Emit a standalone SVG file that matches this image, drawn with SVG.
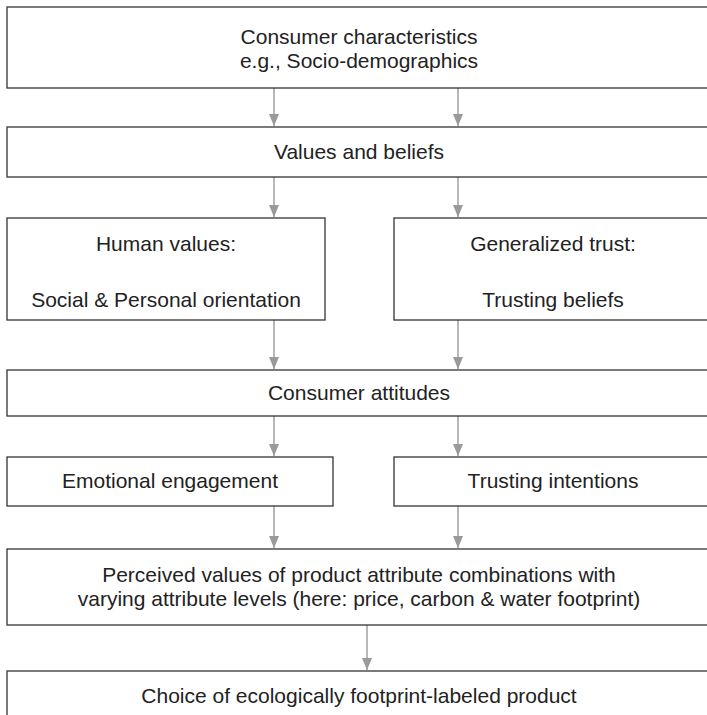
<svg xmlns="http://www.w3.org/2000/svg" width="707" height="715" viewBox="0 0 707 715">
<style>
.box{fill:#fff;stroke:#333;stroke-width:1.3}
.t{font-family:"Liberation Sans",Arial,sans-serif;font-size:21px;fill:#222;text-anchor:middle}
.c{stroke:#9a9a9a;stroke-width:1.4;fill:none;marker-end:url(#ah)}
</style>
<defs>
<marker id="ah" markerUnits="userSpaceOnUse" viewBox="0 0 12 10" refX="12" refY="5" markerWidth="12" markerHeight="10" orient="auto">
<path d="M0,0 L12,5 L0,10 z" fill="#9a9a9a"/>
</marker>
</defs>
<rect width="707" height="715" fill="#fff"/>
<g id="connectors">
<line class="c" x1="274" y1="88" x2="274" y2="126"/>
<line class="c" x1="458" y1="88" x2="458" y2="126"/>
<line class="c" x1="274" y1="177" x2="274" y2="217"/>
<line class="c" x1="458" y1="177" x2="458" y2="217"/>
<line class="c" x1="274" y1="320" x2="274" y2="369"/>
<line class="c" x1="458" y1="320" x2="458" y2="369"/>
<line class="c" x1="274" y1="416" x2="274" y2="456"/>
<line class="c" x1="458" y1="416" x2="458" y2="456"/>
<line class="c" x1="274" y1="506" x2="274" y2="548"/>
<line class="c" x1="458" y1="506" x2="458" y2="548"/>
<line class="c" x1="367" y1="625" x2="367" y2="670"/>
</g>
<g id="n1"><rect class="box" x="7" y="7" width="705" height="81"/>
<text class="t" x="359" y="44">Consumer characteristics</text>
<text class="t" x="359" y="68">e.g., Socio-demographics</text></g>
<g id="n2"><rect class="box" x="7" y="127" width="705" height="50"/>
<text class="t" x="359" y="159">Values and beliefs</text></g>
<g id="n3"><rect class="box" x="7" y="218" width="318" height="102"/>
<text class="t" x="166" y="251">Human values:</text>
<text class="t" x="166" y="307">Social &amp; Personal orientation</text></g>
<g id="n4"><rect class="box" x="394" y="218" width="318" height="102"/>
<text class="t" x="553" y="251">Generalized trust:</text>
<text class="t" x="553" y="307">Trusting beliefs</text></g>
<g id="n5"><rect class="box" x="7" y="370" width="705" height="46"/>
<text class="t" x="359" y="400">Consumer attitudes</text></g>
<g id="n6"><rect class="box" x="7" y="457" width="326" height="49"/>
<text class="t" x="170" y="488">Emotional engagement</text></g>
<g id="n7"><rect class="box" x="394" y="457" width="318" height="49"/>
<text class="t" x="553" y="488">Trusting intentions</text></g>
<g id="n8"><rect class="box" x="7" y="549" width="705" height="76"/>
<text class="t" x="359" y="582">Perceived values of product attribute combinations with</text>
<text class="t" x="359" y="606">varying attribute levels (here: price, carbon &amp; water footprint)</text></g>
<g id="n9"><rect class="box" x="7" y="671" width="705" height="60"/>
<text class="t" x="359" y="703">Choice of ecologically footprint-labeled product</text></g>
</svg>
